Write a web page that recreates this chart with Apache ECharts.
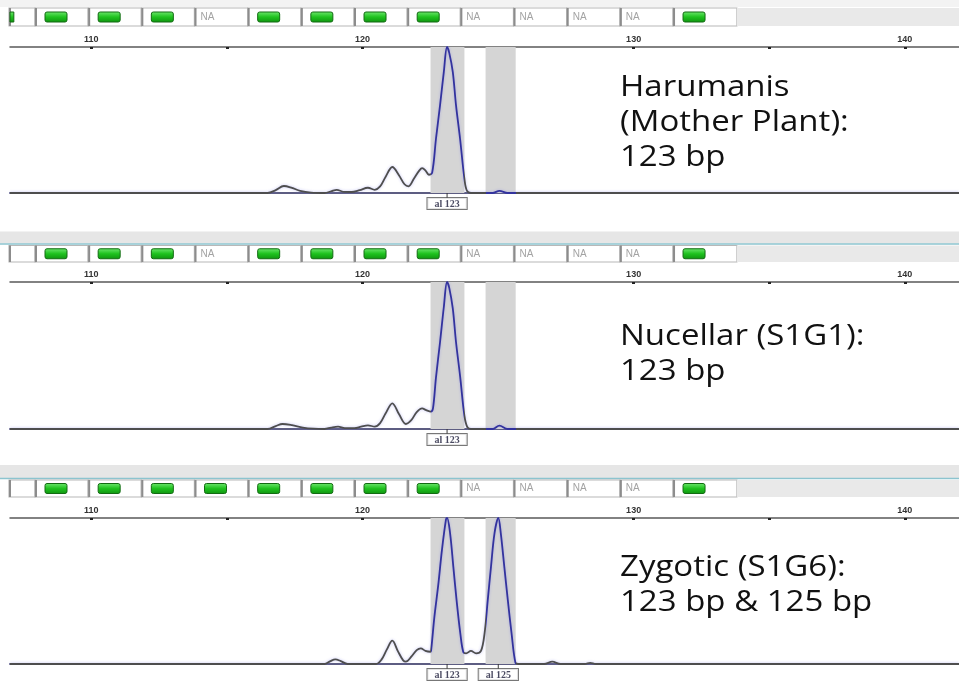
<!DOCTYPE html>
<html>
<head>
<meta charset="utf-8">
<script src="https://cdn.jsdelivr.net/npm/echarts@6/dist/echarts.min.js"></script>
<style>html,body{margin:0;padding:0;background:#fff}#c{width:959px;height:684px}</style>
</head>
<body>
<div id="c"></div>
<script>
// ---------------- DATA ----------------
const axisMin = 107, axisMax = 142;
const tickValues = [110, 115, 120, 125, 130, 135, 140];
const tickLabels = [110, 120, 130, 140];
const bins = [[122.51, 123.76], [124.54, 125.65]];

const panelTitles = [
  ['Harumanis', '(Mother Plant):', '123 bp'],
  ['Nucellar (S1G1):', '123 bp'],
  ['Zygotic (S1G6):', '123 bp & 125 bp']
];

const status1 = ['G','G','G','G','NA','G','G','G','G','NA','NA','NA','NA','G'];
const status2 = ['','G','G','G','NA','G','G','G','G','NA','NA','NA','NA','G'];
const status3 = ['','G','G','G','G','G','G','G','G','NA','NA','NA','NA','G'];

const calls1 = [[123.12, 'al 123']];
const calls2 = [[123.12, 'al 123']];
const calls3 = [[123.12, 'al 123'], [125.01, 'al 125']];

const trace1 = [[107,0],[116.5,0],[116.8,2],[117.1,4.8],[117.4,3.5],[117.7,1.5],[118.1,0.3],[118.6,0],[118.85,1.2],[119.05,2.2],[119.3,0.8],[119.6,0.7],[119.9,2],[120.2,3.6],[120.45,2.2],[120.65,4.5],[120.85,11],[121.1,17.8],[121.35,12],[121.55,6],[121.7,4.6],[121.9,10],[122.1,15.5],[122.2,17],[122.32,15.5],[122.45,12.5],[122.57,14],[122.71,37],[122.86,60],[123.0,83],[123.12,100],[123.2,96],[123.33,83],[123.45,60],[123.6,37],[123.76,9.6],[123.85,1.6],[124.0,0],[124.8,0],[125.05,1.5],[125.35,0],[142,0]];

const trace2 = [[107,0],[116.5,0],[116.8,2],[117.05,3.4],[117.4,2.6],[117.8,1],[118.2,0.2],[118.6,0],[118.85,1],[119.1,1.6],[119.35,0.6],[119.7,0.6],[119.95,1.6],[120.2,2.5],[120.45,1.6],[120.65,4],[120.85,10.5],[121.1,17.5],[121.35,10],[121.6,3.4],[121.8,6],[122.0,11.5],[122.2,14],[122.35,12.8],[122.52,11.8],[122.6,14],[122.71,35],[122.86,59],[123.0,83],[123.12,100],[123.2,96],[123.33,82],[123.45,59],[123.6,36],[123.76,9],[123.87,1.2],[124.0,0],[124.8,0],[125.05,2.3],[125.35,0],[142,0]];

const trace3 = [[107,0],[118.6,0],[118.8,1.8],[119.0,3.2],[119.2,2],[119.45,0],[120.5,0],[120.7,3],[120.9,10],[121.1,16],[121.3,9],[121.5,2.5],[121.6,1.6],[121.8,5],[122.0,9.5],[122.15,10.7],[122.32,9],[122.5,8.4],[122.53,9.2],[122.65,32],[122.8,55],[122.93,78],[123.08,99],[123.12,100],[123.23,89.7],[123.35,66.7],[123.47,43.7],[123.61,20.7],[123.72,8],[123.82,7.3],[124.0,9],[124.19,7.3],[124.37,9],[124.5,20.7],[124.62,43.7],[124.74,66.7],[124.87,89.7],[125.01,100],[125.1,89.7],[125.23,66.7],[125.36,43.7],[125.5,20.7],[125.64,1],[125.75,0],[126.7,0],[127.0,1.6],[127.3,0],[128.2,0],[128.4,0.8],[128.6,0],[142,0]];

// ---------------- LAYOUT ----------------
const W = 959;
const panels = [
  { traceTop: 47, traceH: 146, statusTop: 8, statusH: 18, bandTop: 0, bandH: 7, teal: false, status: status1, trace: trace1, calls: calls1, titles: panelTitles[0], textY: [87, 122, 157] },
  { traceTop: 282, traceH: 147, statusTop: 245.5, statusH: 16.5, bandTop: 231.5, bandH: 12, teal: true, status: status2, trace: trace2, calls: calls2, titles: panelTitles[1], textY: [336, 371] },
  { traceTop: 518, traceH: 146, statusTop: 480, statusH: 17, bandTop: 465, bandH: 13, teal: true, status: status3, trace: trace3, calls: calls3, titles: panelTitles[2], textY: [567, 602] }
];
const boxW = 53.17;
const boxStart = 35 - boxW;          // first (partial) box starts off-canvas
const statusMin = -boxStart / boxW;  // axis offset so grid can start at x=0
const visibleLeft = 9;               // left edge of visible status strip

const chart = echarts.init(document.getElementById('c'), null, { renderer: 'canvas' });

const grid = [], xAxis = [], yAxis = [], series = [], visualMap = [], graphic = [];

const GRAY = '#4e4e4e', BLUE = '#33339e';
function pieces() {
  const p = [];
  let prev = null;
  bins.forEach((b, i) => {
    p.push(i === 0 ? { lt: b[0], color: GRAY } : { gt: prev, lt: b[0], color: GRAY });
    p.push({ gte: b[0], lte: b[1], color: BLUE });
    prev = b[1];
  });
  p.push({ gt: prev, color: GRAY });
  return p;
}

panels.forEach((P, pi) => {
  // bands (decoration)
  graphic.push({ type: 'rect', shape: { x: 0, y: P.bandTop, width: W, height: P.bandH }, style: { fill: pi === 0 ? '#f3f3f3' : '#e6e6e6' }, z: -1 });
  if (P.teal) graphic.push({ type: 'line', shape: { x1: 0, y1: P.bandTop + P.bandH + 0.5, x2: W, y2: P.bandTop + P.bandH + 0.5 }, style: { stroke: '#8cc4cf', lineWidth: 1.5 }, z: -1 });
  P.titles.forEach((t, ti) => {
    graphic.push({ type: 'text', x: 620, y: P.textY[ti], scaleX: 1.1, style: { text: t, font: '30px "Open Sans"', fill: '#111', textVerticalAlign: 'middle', verticalAlign: 'middle' }, z: 10 });
  });

  // status grid
  const sg = grid.length;
  const n = P.status.length;
  grid.push({ left: 0, top: P.statusTop, width: boxW * (n - statusMin), height: P.statusH, containLabel: false });
  xAxis.push({ type: 'value', gridIndex: sg, min: statusMin, max: n, show: false });
  yAxis.push({ type: 'value', gridIndex: sg, min: 0, max: 1, show: false });
  const statusArr = P.status;
  series.push({
    type: 'custom', xAxisIndex: xAxis.length - 1, yAxisIndex: yAxis.length - 1, clip: false, silent: true,
    data: statusArr.map((s, i) => [i, 0.5]),
    renderItem: function (params, api) {
      const k = api.value(0);
      const s = statusArr[params.dataIndex];
      const last = params.dataIndex === statusArr.length - 1;
      const a = api.coord([k, 1]), b = api.coord([k + 1, 0]);
      let x0 = a[0];
      const y0 = a[1];
      let w = (b[0] - a[0]) * (last ? 1.2 : 1);
      const h = b[1] - a[1];
      const cy = y0 + h / 2;
      // icon geometry (computed before clipping the partial first box)
      let ix = x0 + 10, iw = 22;
      if (x0 < visibleLeft) { w -= (visibleLeft - x0); x0 = visibleLeft; }
      if (ix < visibleLeft + 1) { iw -= (visibleLeft + 1 - ix); ix = visibleLeft + 1; }
      const ch = [
        { type: 'rect', shape: { x: x0, y: y0, width: w, height: h }, style: { fill: '#fff', stroke: '#b8b8b8', lineWidth: 1.2 } },
        { type: 'line', shape: { x1: x0 + 1, y1: y0, x2: x0 + 1, y2: y0 + h }, style: { stroke: '#8c8c8c', lineWidth: 2 } }
      ];
      if (last) ch.push({ type: 'rect', shape: { x: x0 + w, y: y0, width: W - (x0 + w), height: h }, style: { fill: '#e9e9e9' } });
      if (s === 'G' && iw > 0) {
        ch.push({ type: 'rect', shape: { x: ix, y: cy - 5, width: iw, height: 10, r: iw > 6 ? 2 : 0 },
          style: { fill: new echarts.graphic.LinearGradient(0, 0, 0, 1, [{ offset: 0, color: '#6fe86f' }, { offset: 0.5, color: '#1fc21f' }, { offset: 1, color: '#0f930f' }]), stroke: '#126b12', lineWidth: 1 } });
      } else if (s === 'NA') {
        ch.push({ type: 'text', x: x0 + 6, y: cy, style: { text: 'NA', font: '10px "Liberation Sans"', fill: '#a3a3a3', textVerticalAlign: 'middle', verticalAlign: 'middle' } });
      }
      return { type: 'group', children: ch };
    }
  });

  // trace grid
  const tg = grid.length;
  grid.push({ left: 10, right: 0, top: P.traceTop, height: P.traceH, containLabel: false });
  const xTop = xAxis.length;
  xAxis.push({
    type: 'value', gridIndex: tg, position: 'top', min: axisMin, max: axisMax,
    axisLine: { show: true, onZero: false, lineStyle: { color: '#5a5a5a', width: 1.5 } },
    axisTick: { show: true, inside: true, length: 2, customValues: tickValues, lineStyle: { color: '#222', width: 3 } },
    axisLabel: { show: true, customValues: tickLabels, margin: 3, fontSize: 9, fontWeight: 'bold', color: '#333', fontFamily: '"Liberation Sans"' },
    splitLine: { show: false }
  });
  xAxis.push({
    type: 'value', gridIndex: tg, position: 'bottom', min: axisMin, max: axisMax,
    axisLine: { show: true, onZero: false, lineStyle: { color: '#5d5d82', width: 2 } },
    axisTick: { show: false }, axisLabel: { show: false }, splitLine: { show: false }
  });
  const yI = yAxis.length;
  yAxis.push({ type: 'value', gridIndex: tg, min: 0, max: 100, show: false });

  // bins
  series.push({
    type: 'line', xAxisIndex: xTop, yAxisIndex: yI, data: [], z: 1, silent: true,
    markArea: { silent: true, itemStyle: { color: '#d5d5d5', opacity: 1 }, data: bins.map(b => [{ xAxis: b[0] }, { xAxis: b[1] }]) }
  });
  // trace
  const si = series.length;
  series.push({
    type: 'line', xAxisIndex: xTop, yAxisIndex: yI, data: P.trace, showSymbol: false, smooth: 0.35, z: 3,
    lineStyle: { width: 1.8, shadowColor: 'rgba(120,120,230,0.45)', shadowBlur: 3 }, silent: true
  });
  visualMap.push({ type: 'piecewise', show: false, dimension: 0, seriesIndex: si, pieces: pieces() });
  // calls
  series.push({
    type: 'scatter', xAxisIndex: xTop, yAxisIndex: yI, clip: false, z: 5, silent: true,
    data: P.calls.map(c => [c[0], 0, c[1]]),
    symbol: 'rect', symbolSize: [1.2, 5], symbolOffset: [0, 2.5], itemStyle: { color: '#333' },
    label: { show: true, position: 'bottom', distance: 0, formatter: p => p.value[2], fontSize: 10, fontWeight: 'bold', fontFamily: '"Liberation Serif"', color: '#1d1d3a', backgroundColor: '#fff', borderColor: '#555', borderWidth: 1, padding: [1, 7, 0, 7] }
  });
});

chart.setOption({ animation: false, grid, xAxis, yAxis, series, visualMap, graphic });
</script>
</body>
</html>
